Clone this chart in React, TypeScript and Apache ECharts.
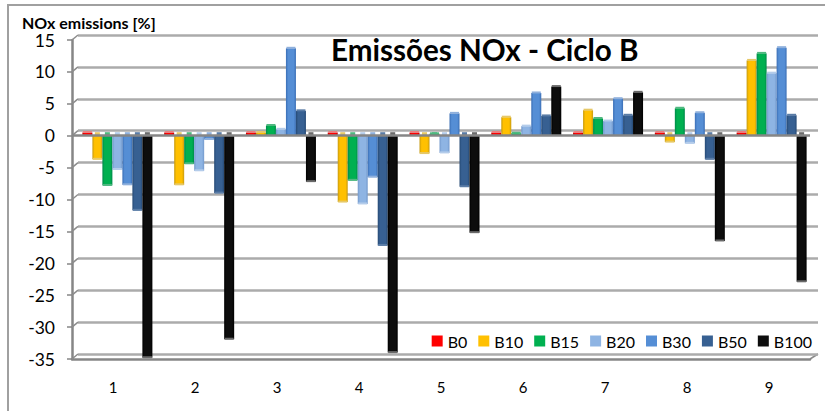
import React, { useEffect, useRef } from "react";
import * as echarts from "echarts";

const categories = ["1", "2", "3", "4", "5", "6", "7", "8", "9"];
const B0 = [0.5, 0.5, 0.5, 0.5, 0.5, 0.5, 0.5, 0.5, 0.5];
const B10 = [-3.7, -7.7, 0.5, -10.4, -2.8, 2.9, 4.0, -1.0, 11.8];
const B15 = [-7.8, -4.4, 1.6, -7.0, 0.3, 0.4, 2.7, 4.3, 12.9];
const B20 = [-5.3, -5.5, 1.0, -10.7, -2.7, 1.5, 2.3, -1.2, 9.8];
const B30 = [-7.7, -0.6, 13.7, -6.5, 3.5, 6.7, 5.8, 3.6, 13.8];
const B50 = [-11.7, -9.0, 3.9, -17.2, -8.0, 3.1, 3.2, -3.7, 3.2];
const B100 = [-34.8, -31.9, -7.2, -34.0, -15.2, 7.7, 6.8, -16.5, -22.9];
const yTicks = [-35, -30, -25, -20, -15, -10, -5, 0, 5, 10, 15];

const seriesNames = ["B0", "B10", "B15", "B20", "B30", "B50", "B100"];
const seriesValues = [B0, B10, B15, B20, B30, B50, B100];
const seriesColors = ["#FF0000", "#FFC000", "#00B050", "#8EB4E3", "#558ED5", "#376092", "#0D0D0D"];
const seriesEdges = ["#C00000", "#C79A10", "#00894A", "#7399CC", "#3A6EB5", "#264A75", "#000000"];
const seriesCaps = ["#E88080", "#E6C868", "#4FB880", "#B4CCEA", "#8FB0DC", "#5A7CA6", "#6A6A6A"];

const FONT = "Lato, 'Open Sans', sans-serif";
const BAR_W = 10;
const DX = 6;
const DY = -5;

export default function App() {
  const ref = useRef<HTMLDivElement>(null);
  useEffect(() => {
    const chart = echarts.init(ref.current!, undefined, { renderer: "svg" });
    const yCommon = { min: -35, max: 15, interval: 5 };
    const renderBar = (i: number) => (params: any, api: any) => {
      const value = api.value(1);
      const c = api.coord([api.value(0), 0]);
      const e = api.coord([api.value(0), value]);
      const left = c[0] + (i - 3.5) * BAR_W;
      const top = Math.min(c[1], e[1]);
      const h = Math.abs(e[1] - c[1]);
      const neg = value < 0;
      const gradient = new echarts.graphic.LinearGradient(0, 0, 1, 0, [
        { offset: 0, color: seriesEdges[i] },
        { offset: 0.22, color: seriesColors[i] },
        { offset: 0.78, color: seriesColors[i] },
        { offset: 1, color: seriesEdges[i] },
      ]);
      const children: any[] = [
        { type: "rect", shape: { x: left + 2.5, y: c[1] - 3.5, width: BAR_W - 5, height: 3 }, style: { fill: seriesCaps[i] } },
        { type: "rect", shape: { x: left, y: top, width: BAR_W, height: h }, style: { fill: gradient } },
        {
          type: "rect",
          shape: { x: left + 0.5, y: neg ? top + h - 1.5 : top - 1.5, width: BAR_W - 1, height: 2 },
          style: { fill: seriesCaps[i] },
        },
      ];
      return { type: "group", children };
    };
    const renderSlant = (params: any, api: any) => {
      const p = api.coord([0, api.value(0)]);
      const x = p[0] - 41;
      return {
        type: "line",
        shape: { x1: x, y1: p[1], x2: x + DX, y2: p[1] + DY },
        style: { stroke: "#8C8C8C", lineWidth: 1.5 },
      };
    };
    chart.setOption({
      animation: false,
      backgroundColor: "#fff",
      grid: [
        { left: 78, top: 35, width: 740, height: 319 },
        { left: 72, top: 40, width: 738, height: 319 },
        { left: 76.5, top: 40, width: 736, height: 319 },
      ],
      title: {
        text: "Emissões NOx - Ciclo B",
        left: 331,
        top: 34,
        padding: 0,
        textStyle: { fontFamily: FONT, fontSize: 29.6, fontWeight: "bold", color: "#000" },
      },
      legend: {
        data: seriesNames,
        icon: "rect",
        right: 13,
        top: 333,
        padding: 0,
        itemWidth: 11,
        itemHeight: 11,
        itemGap: 11,
        textStyle: { fontFamily: FONT, fontSize: 16, color: "#000" },
      },
      xAxis: [
        { gridIndex: 0, type: "category", data: categories, show: false },
        {
          gridIndex: 1,
          type: "category",
          data: categories,
          axisLine: { onZero: false, lineStyle: { color: "#868686", width: 2.5 } },
          axisTick: { show: false },
          axisLabel: { fontFamily: FONT, fontSize: 15, color: "#000", margin: 20 },
        },
        { gridIndex: 2, type: "category", data: categories, show: false },
      ],
      yAxis: [
        {
          gridIndex: 0,
          type: "value",
          ...yCommon,
          axisLine: { show: false },
          axisTick: { show: false },
          axisLabel: { show: false },
          splitLine: { show: true, lineStyle: { color: "#ABABAB", width: 2.5 } },
        },
        {
          gridIndex: 1,
          type: "value",
          ...yCommon,
          axisLine: { show: true, lineStyle: { color: "#868686", width: 2.5 } },
          axisTick: { show: true, length: 5, lineStyle: { color: "#868686", width: 1.5 } },
          axisLabel: { fontFamily: FONT, fontSize: 17.5, color: "#000", margin: 17 },
          splitLine: { show: false },
        },
        { gridIndex: 2, type: "value", ...yCommon, show: false, splitLine: { show: false } },
      ],
      series: [
        {
          name: "wall",
          type: "custom",
          xAxisIndex: 1,
          yAxisIndex: 1,
          data: yTicks.map((t) => [t]),
          encode: { y: 0 },
          silent: true,
          z: 2,
          renderItem: renderSlant,
        },
        ...seriesNames.map((name, i) => ({
          name,
          type: "custom",
          xAxisIndex: 2,
          yAxisIndex: 2,
          data: seriesValues[i].map((v, k) => [k, v]),
          encode: { x: 0, y: 1 },
          z: 3,
          itemStyle: { color: seriesColors[i] },
          renderItem: renderBar(i),
        })),
        {
          name: "zero",
          type: "line",
          xAxisIndex: 1,
          yAxisIndex: 1,
          data: [],
          silent: true,
          z: 5,
          markLine: {
            silent: true,
            symbol: "none",
            label: { show: false },
            lineStyle: { color: "#868686", width: 2.5, type: "solid" },
            data: [{ yAxis: 0 }],
          },
        },
      ],
      graphic: [
        {
          type: "polyline",
          z: 0,
          shape: { points: [[8, 411], [8, 5], [825, 5]] },
          style: { stroke: "#A0A0A0", lineWidth: 2, fill: "none" },
        },
        {
          type: "line",
          z: 0,
          shape: { x1: 810, y1: 359, x2: 818, y2: 354 },
          style: { stroke: "#8C8C8C", lineWidth: 1.5 },
        },
        {
          type: "text",
          left: 22,
          top: 14,
          style: { text: "NOx emissions [%]", fontFamily: FONT, fontSize: 16, fontWeight: "bold", fill: "#000" },
        },
      ],
    });
    return () => chart.dispose();
  }, []);
  return <div ref={ref} style={{ position: "fixed", left: 0, top: 0, width: 825, height: 411 }} />;
}
